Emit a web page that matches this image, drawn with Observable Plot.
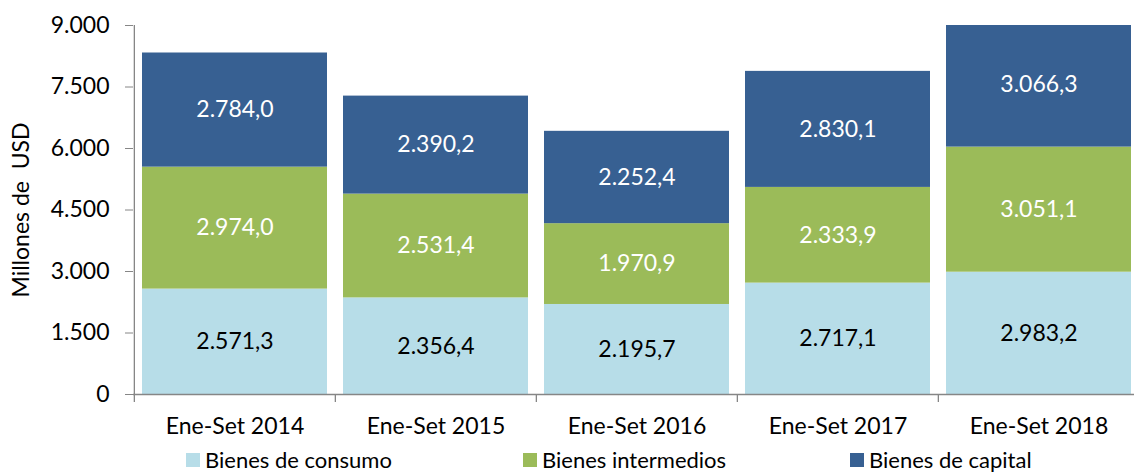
<!DOCTYPE html>
<html><head><meta charset="utf-8">
<script src="https://cdn.jsdelivr.net/npm/d3@7"></script>
<script src="https://cdn.jsdelivr.net/npm/@observablehq/plot@0.6"></script>
<style>
body{margin:0;background:#fff;font-family:Lato,sans-serif;}
#wrap{position:relative;width:1134px;height:473px;overflow:hidden;background:#fff}
.leg{position:absolute;top:449px;font-size:22px;display:flex;align-items:center;white-space:nowrap;color:#000;line-height:22px;height:22px}
.sw{width:14px;height:14px;margin-right:5px;display:inline-block}
</style></head><body><div id="wrap"><div id="chart"></div><div id="legend"></div></div>
<script>
const years = ["Ene-Set 2014","Ene-Set 2015","Ene-Set 2016","Ene-Set 2017","Ene-Set 2018"];
const seriesNames = ["Bienes de consumo","Bienes intermedios","Bienes de capital"];
const consumo = [2571.3, 2356.4, 2195.7, 2717.1, 2983.2];
const intermedios = [2974.0, 2531.4, 1970.9, 2333.9, 3051.1];
const capital = [2784.0, 2390.2, 2252.4, 2830.1, 3066.3];
const colors = ["#B7DDE8","#9BBB59","#376092"];
const yTicks = [0,1500,3000,4500,6000,7500,9000];

const seriesValues = [consumo, intermedios, capital];
const data = [];
years.forEach((yr, i) => seriesNames.forEach((s, j) => data.push({year: yr, series: s, value: seriesValues[j][i]})));

const loc = d3.formatLocale({decimal: ",", thousands: ".", grouping: [3], currency: ["", ""]});
const f1 = loc.format(",.1f"), f0 = loc.format(",.0f");
const grey = "#868686";
const xRange = [133, 1139.5];
const halfStep = (xRange[1] - xRange[0]) / years.length / 2;

const chart = Plot.plot({
  width: 1134, height: 445,
  marginLeft: 133, marginTop: 25, marginBottom: 51, marginRight: 0,
  style: {fontFamily: "Lato, sans-serif", fontSize: "23px", color: "black", background: "white"},
  x: {domain: years, range: xRange, paddingInner: 0.08, paddingOuter: 0.04, align: 0.5},
  y: {domain: [0, 9000]},
  color: {domain: seriesNames, range: colors},
  marks: [
    Plot.barY(data, {x: "year", y: "value", fill: "series", clip: true}),
    Plot.text(data, Plot.stackY({x: "year", y: "value", z: "series",
      text: d => d.series === seriesNames[0] ? f1(d.value) : null, fill: "black", fontSize: 23})),
    Plot.text(data, Plot.stackY({x: "year", y: "value", z: "series",
      text: d => d.series !== seriesNames[0] ? f1(d.value) : null, fill: "white", fontSize: 23})),
    Plot.ruleY([0], {stroke: grey, strokeWidth: 1.3}),
    Plot.ruleX([years[0]], {dx: -halfStep, y1: 0, y2: 9000, stroke: grey, strokeWidth: 1.3}),
    Plot.ruleX(years, {dx: -halfStep, y1: 0, y2: -195, stroke: grey, strokeWidth: 1.3, clip: false}),
    Plot.axisY({ticks: yTicks, tickFormat: f0, tickSize: 8, tickPadding: 16, stroke: grey, fill: "black",
      label: "Millones de  USD", labelAnchor: "center", labelArrow: "none", labelOffset: 121, fontSize: 23}),
    Plot.axisX({tickSize: 0, tickPadding: 23, fill: "black", label: null, fontSize: 23})
  ]
});
document.getElementById("chart").appendChild(chart);

const legendX = [186, 523, 850];
const lg = document.getElementById("legend");
seriesNames.forEach((s, i) => {
  const item = document.createElement("div");
  item.className = "leg";
  item.style.left = legendX[i] + "px";
  const sw = document.createElement("span");
  sw.className = "sw"; sw.style.background = colors[i];
  item.appendChild(sw);
  item.appendChild(document.createTextNode(s));
  lg.appendChild(item);
});
</script></body></html>
